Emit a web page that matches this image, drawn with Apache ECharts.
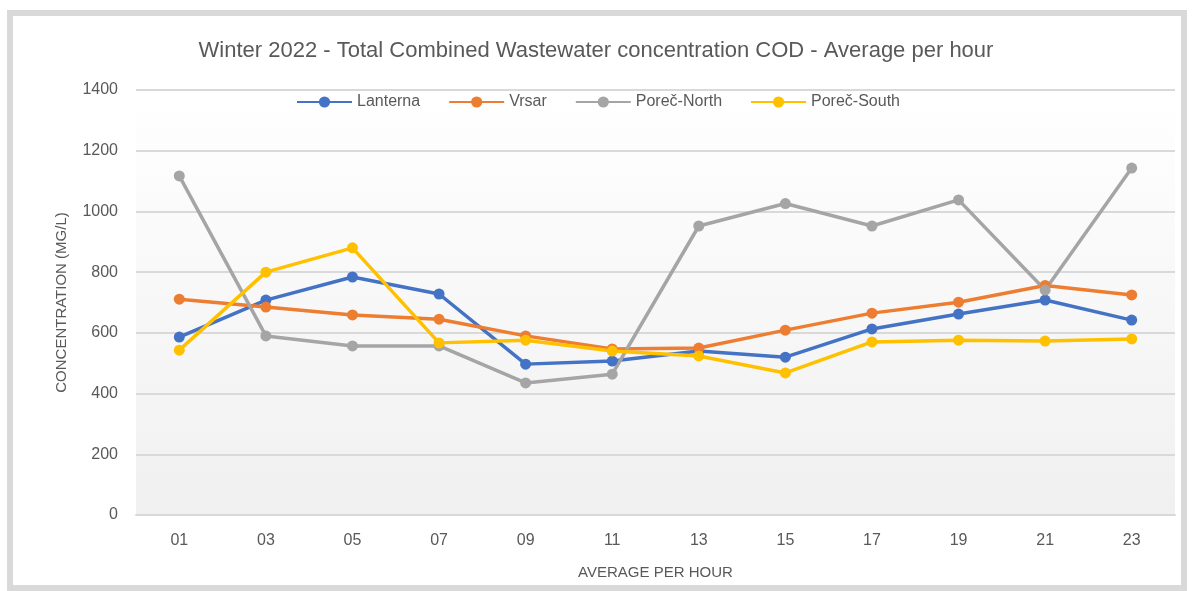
<!DOCTYPE html>
<html><head><meta charset="utf-8">
<script src="https://cdn.jsdelivr.net/npm/echarts@6/dist/echarts.min.js"></script>
<style>html,body{margin:0;padding:0;background:#fff}#c{width:1192px;height:591px}</style>
</head><body><div id="c"></div>
<script>
const hours = ['01','03','05','07','09','11','13','15','17','19','21','23'];
const lanterna = [586, 708, 784, 728, 497, 507, 540, 520, 613, 662, 708, 642];
const vrsar = [711, 685, 659, 645, 590, 547, 550, 609, 665, 701, 756, 725];
const porecNorth = [1117, 590, 557, 557, 435, 464, 952, 1026, 952, 1038, 741, 1143];
const porecSouth = [543, 800, 880, 567, 576, 540, 524, 468, 570, 576, 573, 580];
const yTicks = [0, 200, 400, 600, 800, 1000, 1200, 1400];

const FONT = '"Liberation Sans",sans-serif';
const TXT = '#595959';
const chart = echarts.init(document.getElementById('c'));
function mk(name, data, color) {
  return {
    name, type: 'line', data, symbol: 'circle', symbolSize: 11,
    lineStyle: { width: 3.5, color }, itemStyle: { color },
    emphasis: { disabled: true }, animation: false
  };
}
chart.setOption({
  animation: false,
  backgroundColor: '#ffffff',
  graphic: [{
    type: 'rect', z: -10, silent: true,
    shape: { x: 10, y: 13, width: 1174, height: 575 },
    style: { fill: 'none', stroke: '#d9d9d9', lineWidth: 6 }
  }],
  title: {
    text: 'Winter 2022 - Total Combined Wastewater concentration COD - Average per hour',
    left: 'center', top: 35,
    textStyle: { fontFamily: FONT, fontSize: 22, fontWeight: 'normal', color: TXT }
  },
  legend: {
    left: 291, top: 89, itemWidth: 55, itemHeight: 14, itemGap: 28,
    textStyle: { fontFamily: FONT, fontSize: 16, color: TXT },
    data: ['Lanterna', 'Vrsar', 'Poreč-North', 'Poreč-South']
  },
  grid: {
    left: 136, right: 17, top: 90, bottom: 76, show: true, borderWidth: 0,
    backgroundColor: new echarts.graphic.LinearGradient(0, 0, 0, 1, [
      { offset: 0, color: '#ffffff' }, { offset: 1, color: '#f0f0f0' }
    ])
  },
  xAxis: {
    type: 'category', data: hours, boundaryGap: true,
    name: 'AVERAGE PER HOUR', nameLocation: 'middle', nameGap: 50,
    nameTextStyle: { fontFamily: FONT, fontSize: 15, color: TXT },
    axisLine: { lineStyle: { color: '#d9d9d9', width: 2 } },
    axisTick: { show: false },
    axisLabel: { fontFamily: FONT, fontSize: 16, color: TXT, margin: 18 }
  },
  yAxis: {
    type: 'value', min: yTicks[0], max: yTicks[yTicks.length - 1], interval: 200,
    name: 'CONCENTRATION (MG/L)', nameLocation: 'middle', nameGap: 67,
    nameTextStyle: { fontFamily: FONT, fontSize: 15, color: TXT },
    axisLine: { show: false }, axisTick: { show: false },
    axisLabel: { fontFamily: FONT, fontSize: 16, color: TXT, margin: 18, formatter: v => String(v) },
    splitLine: { lineStyle: { color: '#d9d9d9', width: 2 } }
  },
  series: [
    mk('Lanterna', lanterna, '#4472C4'),
    mk('Vrsar', vrsar, '#ED7D31'),
    mk('Poreč-North', porecNorth, '#A5A5A5'),
    mk('Poreč-South', porecSouth, '#FFC000')
  ]
});
</script></body></html>
